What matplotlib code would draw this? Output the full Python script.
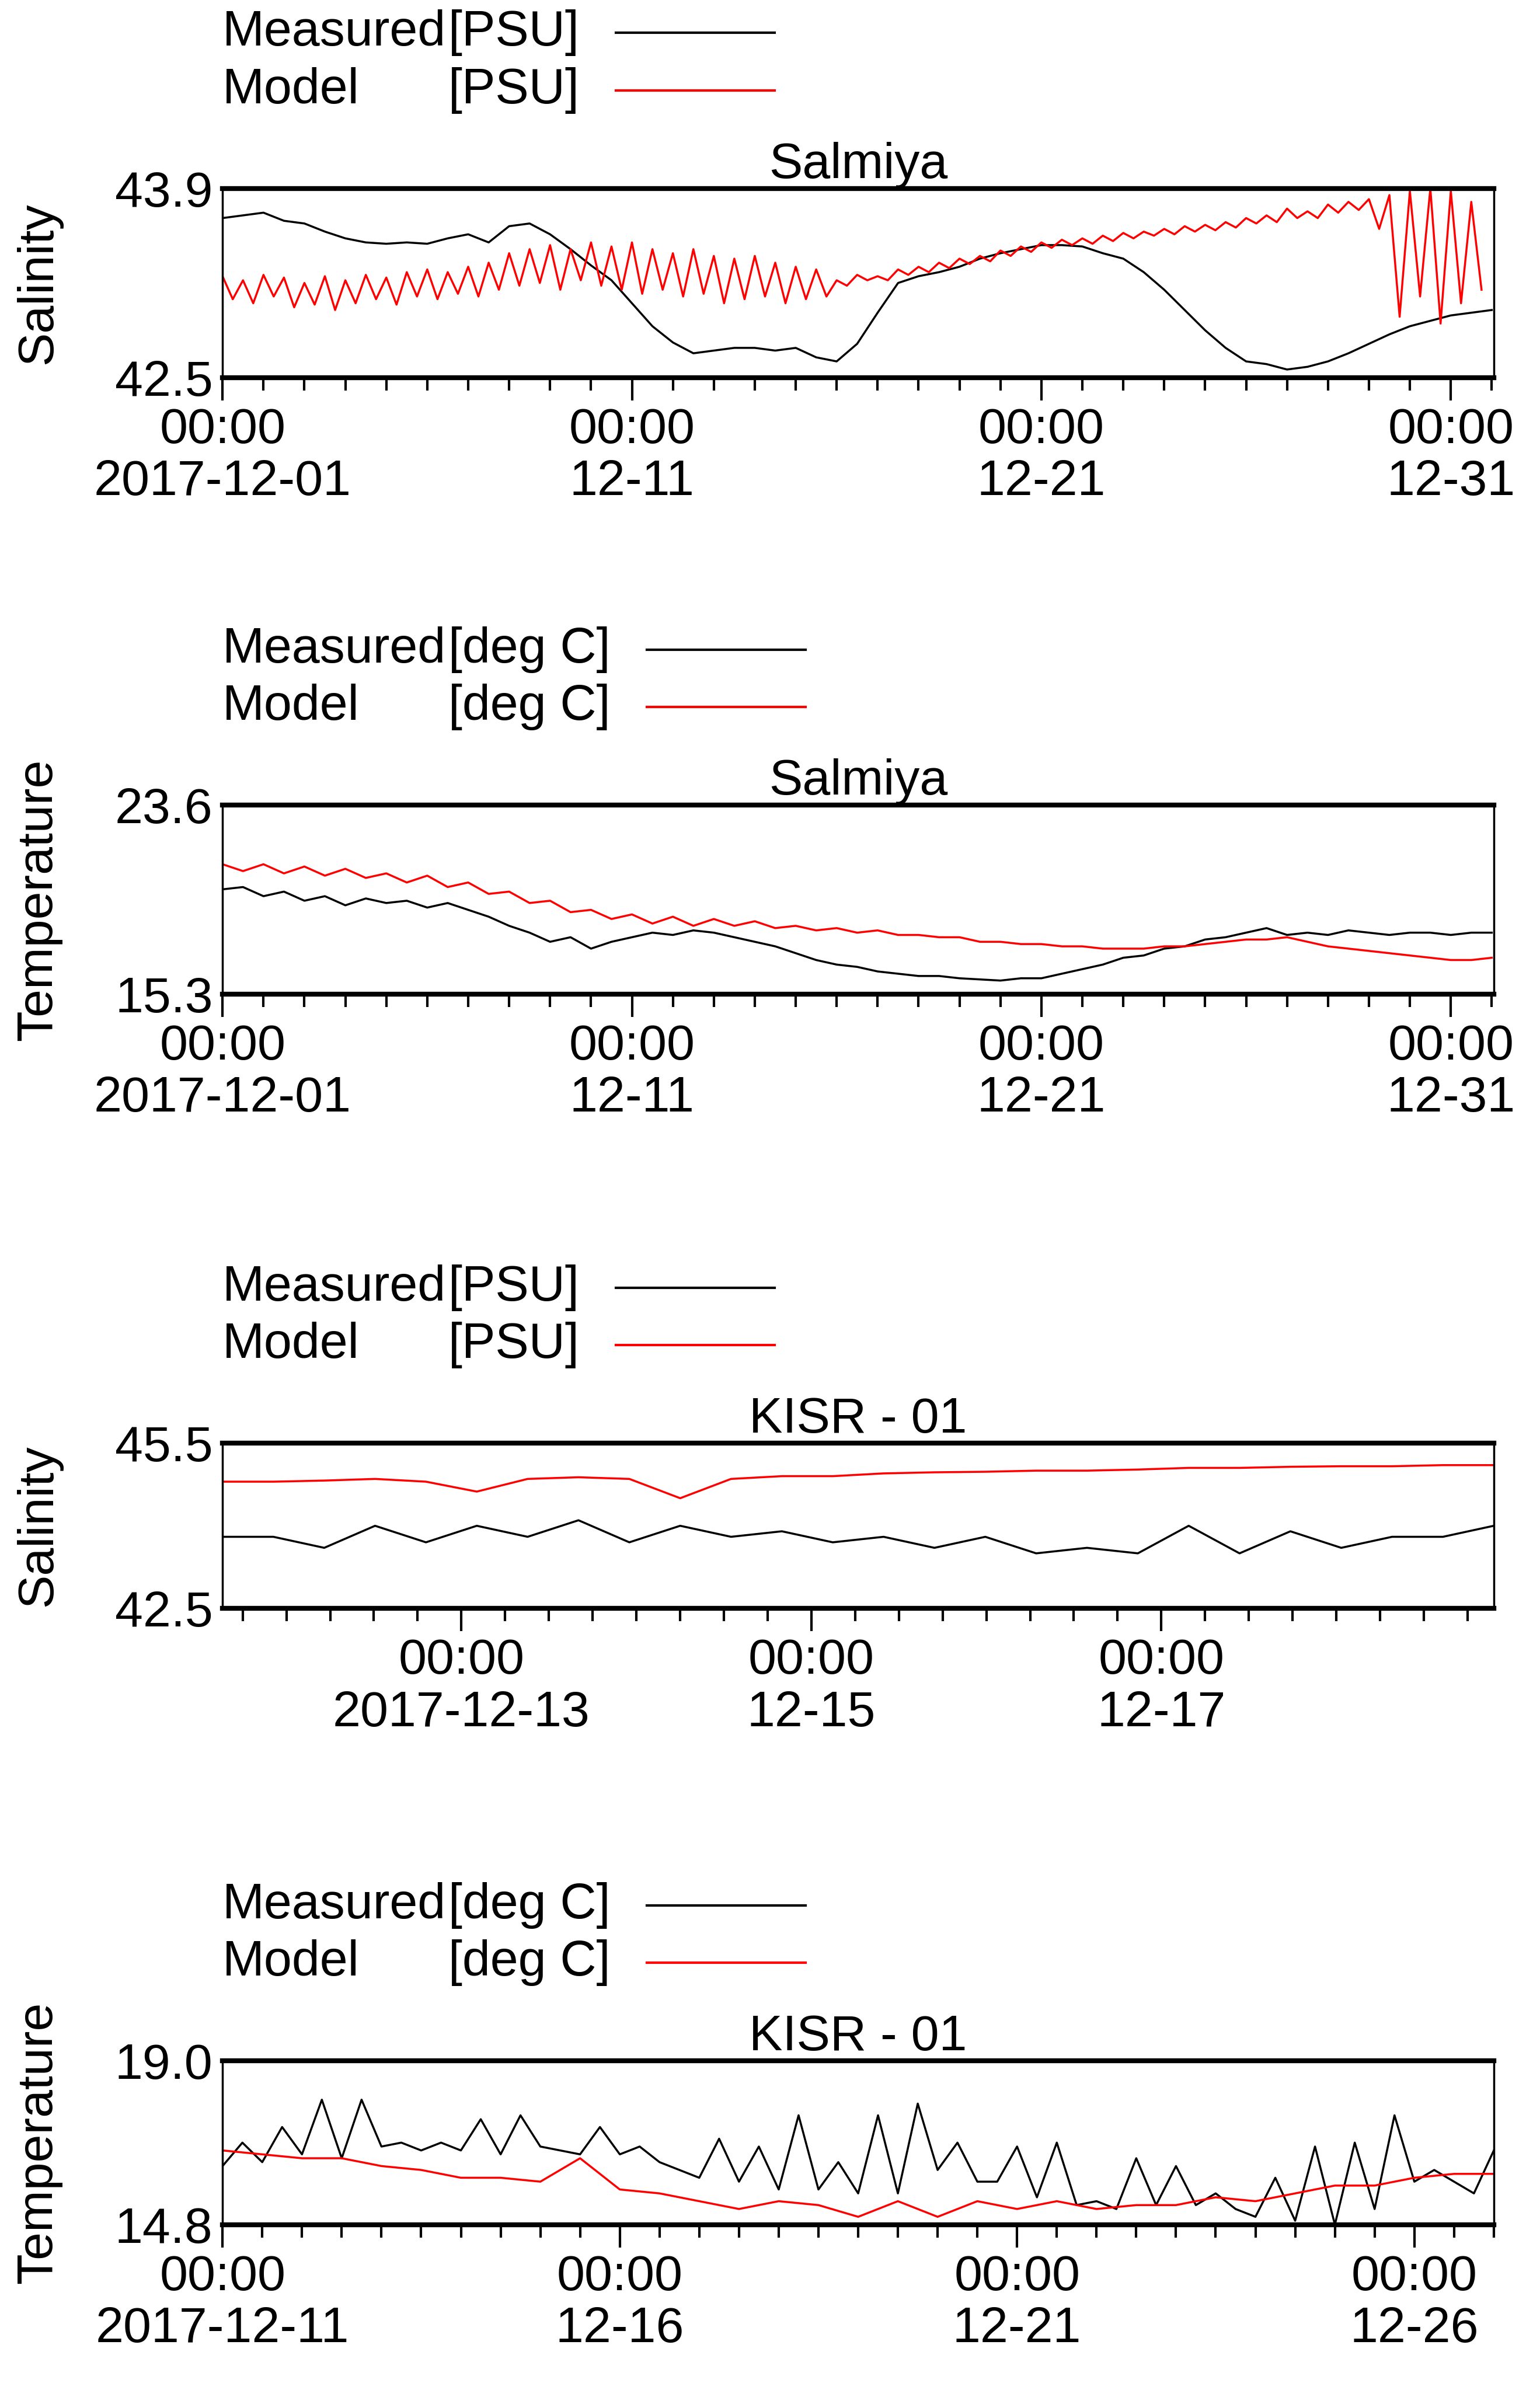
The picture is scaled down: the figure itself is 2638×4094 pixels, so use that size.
import datetime as dt

import numpy as np
import matplotlib
matplotlib.use("Agg")
import matplotlib.pyplot as plt
import matplotlib.dates as mdates
from matplotlib.lines import Line2D
from matplotlib.ticker import FixedLocator, MultipleLocator, FuncFormatter

plt.rcParams['font.family'] = ['Liberation Sans', 'DejaVu Sans']

# ---- Salmiya salinity, Dec 2017, every 0.5 day from 12-01 00:00
sal1_measured = [43.68, 43.70, 43.72, 43.66, 43.64, 43.58, 43.53, 43.50, 43.49, 43.50,
                 43.49, 43.53, 43.56, 43.50, 43.62, 43.64, 43.56, 43.45, 43.33, 43.22,
                 43.05, 42.88, 42.76, 42.68, 42.70, 42.72, 42.72, 42.70, 42.72, 42.65,
                 42.62, 42.75, 42.98, 43.20, 43.25, 43.28, 43.32, 43.38, 43.42, 43.45,
                 43.48, 43.48, 43.47, 43.42, 43.38, 43.28, 43.15, 43.00, 42.85, 42.72,
                 42.62, 42.60, 42.56, 42.58, 42.62, 42.68, 42.75, 42.82, 42.88, 42.92,
                 42.96, 42.98, 43.00]
# model: tidal highs and lows per half day
sal1_model_hi = [43.25, 43.22, 43.26, 43.24, 43.20, 43.25, 43.22, 43.26, 43.24, 43.28,
                 43.30, 43.28, 43.32, 43.35,
                 43.42, 43.45, 43.48, 43.45, 43.50, 43.47, 43.50, 43.45, 43.42, 43.45,
                 43.40, 43.38, 43.40, 43.35, 43.32, 43.30,
                 43.22, 43.26, 43.25, 43.30, 43.32, 43.35, 43.38, 43.40, 43.44, 43.47,
                 43.50, 43.52, 43.53, 43.55, 43.57, 43.58, 43.60, 43.62, 43.63, 43.65,
                 43.68, 43.70, 43.75, 43.73, 43.78, 43.80,
                 43.82, 43.85, 43.88, 43.90, 43.88, 43.80]
sal1_model_lo = [43.08, 43.05, 43.10, 43.02, 43.04, 43.00, 43.05, 43.08, 43.04, 43.10,
                 43.08, 43.12, 43.10, 43.15,
                 43.18, 43.20, 43.15, 43.22, 43.18, 43.15, 43.12, 43.15, 43.10, 43.12,
                 43.05, 43.08, 43.10, 43.05, 43.08, 43.10,
                 43.18, 43.22, 43.22, 43.26, 43.28, 43.31, 43.34, 43.36, 43.40, 43.43,
                 43.46, 43.48, 43.49, 43.51, 43.53, 43.55, 43.56, 43.58, 43.59, 43.61,
                 43.64, 43.65, 43.68, 43.68, 43.72, 43.74,
                 43.60, 42.95, 43.10, 42.90, 43.05, 43.15]

# ---- Salmiya temperature, every 0.5 day from 12-01
tmp1_measured = [19.9, 20.0, 19.6, 19.8, 19.4, 19.6, 19.2, 19.5, 19.3, 19.4,
                 19.1, 19.3, 19.0, 18.7, 18.3, 18.0, 17.6, 17.8, 17.3, 17.6,
                 17.8, 18.0, 17.9, 18.1, 18.0, 17.8, 17.6, 17.4, 17.1, 16.8,
                 16.6, 16.5, 16.3, 16.2, 16.1, 16.1, 16.0, 15.95, 15.9, 16.0,
                 16.0, 16.2, 16.4, 16.6, 16.9, 17.0, 17.3, 17.4, 17.7, 17.8,
                 18.0, 18.2, 17.9, 18.0, 17.9, 18.1, 18.0, 17.9, 18.0, 18.0,
                 17.9, 18.0, 18.0]
tmp1_model = [21.0, 20.7, 21.0, 20.6, 20.9, 20.5, 20.8, 20.4, 20.6, 20.2,
              20.5, 20.0, 20.2, 19.7, 19.8, 19.3, 19.4, 18.9, 19.0, 18.6,
              18.8, 18.4, 18.7, 18.3, 18.6, 18.3, 18.5, 18.2, 18.3, 18.1,
              18.2, 18.0, 18.1, 17.9, 17.9, 17.8, 17.8, 17.6, 17.6, 17.5,
              17.5, 17.4, 17.4, 17.3, 17.3, 17.3, 17.4, 17.4, 17.5, 17.6,
              17.7, 17.7, 17.8, 17.6, 17.4, 17.3, 17.2, 17.1, 17.0, 16.9,
              16.8, 16.8, 16.9]

# ---- KISR-01 salinity, every ~7 hours from 12-11 15:15
sal2_measured = [43.8, 43.8, 43.6, 44.0, 43.7, 44.0, 43.8, 44.1, 43.7, 44.0,
                 43.8, 43.9, 43.7, 43.8, 43.6, 43.8, 43.5, 43.6, 43.5, 44.0,
                 43.5, 43.9, 43.6, 43.8, 43.8, 44.0]
sal2_model = [44.80, 44.80, 44.82, 44.85, 44.80, 44.62, 44.85, 44.88, 44.85, 44.50,
              44.85, 44.90, 44.90, 44.95, 44.97, 44.98, 45.00, 45.00, 45.02, 45.05,
              45.05, 45.07, 45.08, 45.08, 45.10, 45.10]

# ---- KISR-01 temperature
tmp2_measured = [16.3, 16.9, 16.4, 17.3, 16.6, 18.0, 16.5, 18.0, 16.8, 16.9,
                 16.7, 16.9, 16.7, 17.5, 16.6, 17.6, 16.8, 16.7, 16.6, 17.3,
                 16.6, 16.8, 16.4, 16.2, 16.0, 17.0, 15.9, 16.8, 15.7, 17.6,
                 15.7, 16.4, 15.6, 17.6, 15.6, 17.9, 16.2, 16.9, 15.9, 15.9,
                 16.8, 15.5, 16.9, 15.3, 15.4, 15.2, 16.5, 15.3, 16.3, 15.3,
                 15.6, 15.2, 15.0, 16.0, 14.9, 16.8, 14.8, 16.9, 15.2, 17.6,
                 15.9, 16.2, 15.9, 15.6, 16.7]  # every 0.25 day from 12-11
tmp2_model = [16.7, 16.6, 16.5, 16.5, 16.3, 16.2, 16.0, 16.0, 15.9, 16.5,
              15.7, 15.6, 15.4, 15.2, 15.4, 15.3, 15.0, 15.4, 15.0, 15.4,
              15.2, 15.4, 15.2, 15.3, 15.3, 15.5, 15.4, 15.6, 15.8, 15.8,
              16.0, 16.1, 16.1]  # every 0.5 day from 12-11

DEC01 = mdates.date2num(dt.datetime(2017, 12, 1))
DEC11 = mdates.date2num(dt.datetime(2017, 12, 11))


def times(start, step, n):
    return start + step * np.arange(n)


def interleave(hi, lo):
    out = []
    for h, l in zip(hi, lo):
        out += [h, l]
    return out


FS = 62
L, R = 0.1445, 0.970


def date_fmt(first):
    def f(x, pos):
        d = mdates.num2date(x)
        if abs(x - first) < 1e-6:
            return d.strftime("%H:%M\n%Y-%m-%d")
        return d.strftime("%H:%M\n%m-%d")
    return f


def panel(fig, bottom, height, title, ylabel, unit, ylim, xlim, majors, minor_step,
          series, legend_x2):
    ax = fig.add_axes([L, bottom, R - L, height])
    for t, v, c in series:
        ax.plot(t, v, color=c, linewidth=2.5)
    ax.set_xlim(*xlim)
    ax.set_ylim(*ylim)
    ax.set_yticks(list(ylim))
    ax.set_yticklabels([f"{ylim[0]:.1f}", f"{ylim[1]:.1f}"])
    ax.tick_params(axis='y', length=0, labelsize=FS, pad=12)
    ax.xaxis.set_major_locator(FixedLocator(majors))
    ax.xaxis.set_minor_locator(MultipleLocator(minor_step))
    ax.xaxis.set_major_formatter(FuncFormatter(date_fmt(majors[0])))
    ax.tick_params(axis='x', which='major', length=28, width=3, labelsize=FS, pad=8)
    ax.tick_params(axis='x', which='minor', length=16, width=3)
    for lab in ax.get_xticklabels():
        lab.set_linespacing(1.15)
    for s in ['top', 'bottom']:
        ax.spines[s].set_linewidth(6)
    for s in ['left', 'right']:
        ax.spines[s].set_linewidth(2.5)
    ax.set_title(title, fontsize=FS, pad=12)
    fig.text(0.025, bottom + height / 2, ylabel, rotation=90, fontsize=FS,
             ha='center', va='center')
    # legend
    top = bottom + height
    y1 = top + 0.065
    y2 = top + 0.041
    for y, name, col in [(y1, "Measured", 'black'), (y2, "Model", 'red')]:
        fig.text(L, y, name, fontsize=FS, va='center')
        fig.text(0.291, y, unit, fontsize=FS, va='center')
        fig.add_artist(Line2D([legend_x2[0], legend_x2[1]], [y, y], color=col,
                              linewidth=3, transform=fig.transFigure))
    return ax


fig = plt.figure(figsize=(26.38, 40.94), dpi=100)

t_half = times(DEC01, 0.5, len(sal1_measured))
t_model1 = times(DEC01, 0.25, 2 * len(sal1_model_hi))
panel(fig, 0.842, 0.0792, "Salmiya", "Salinity", "[PSU]", (42.5, 43.9),
      (DEC01, DEC01 + 31.05), [DEC01, DEC01 + 10, DEC01 + 20, DEC01 + 30], 1,
      [(t_half, sal1_measured, 'black'),
       (t_model1, interleave(sal1_model_hi, sal1_model_lo), 'red')],
      (0.400, 0.503))

panel(fig, 0.584, 0.0792, "Salmiya", "Temperature", "[deg C]", (15.3, 23.6),
      (DEC01, DEC01 + 31.05), [DEC01, DEC01 + 10, DEC01 + 20, DEC01 + 30], 1,
      [(times(DEC01, 0.5, len(tmp1_measured)), tmp1_measured, 'black'),
       (times(DEC01, 0.5, len(tmp1_model)), tmp1_model, 'red')],
      (0.420, 0.523))

k0 = DEC11 + 0.635
k1 = DEC11 + 7.9
k_step = (k1 - k0) / (len(sal2_measured) - 1)
panel(fig, 0.327, 0.0692, "KISR - 01", "Salinity", "[PSU]", (42.5, 45.5),
      (k0, k1), [DEC11 + 2, DEC11 + 4, DEC11 + 6], 0.25,
      [(times(k0, k_step, len(sal2_measured)), sal2_measured, 'black'),
       (times(k0, k_step, len(sal2_model)), sal2_model, 'red')],
      (0.400, 0.503))

panel(fig, 0.0692, 0.0686, "KISR - 01", "Temperature", "[deg C]", (14.8, 19.0),
      (DEC11, DEC11 + 16.0), [DEC11, DEC11 + 5, DEC11 + 10, DEC11 + 15], 0.5,
      [(times(DEC11, 0.25, len(tmp2_measured)), tmp2_measured, 'black'),
       (times(DEC11, 0.5, len(tmp2_model)), tmp2_model, 'red')],
      (0.420, 0.523))

fig.savefig("out.png", dpi=100)
